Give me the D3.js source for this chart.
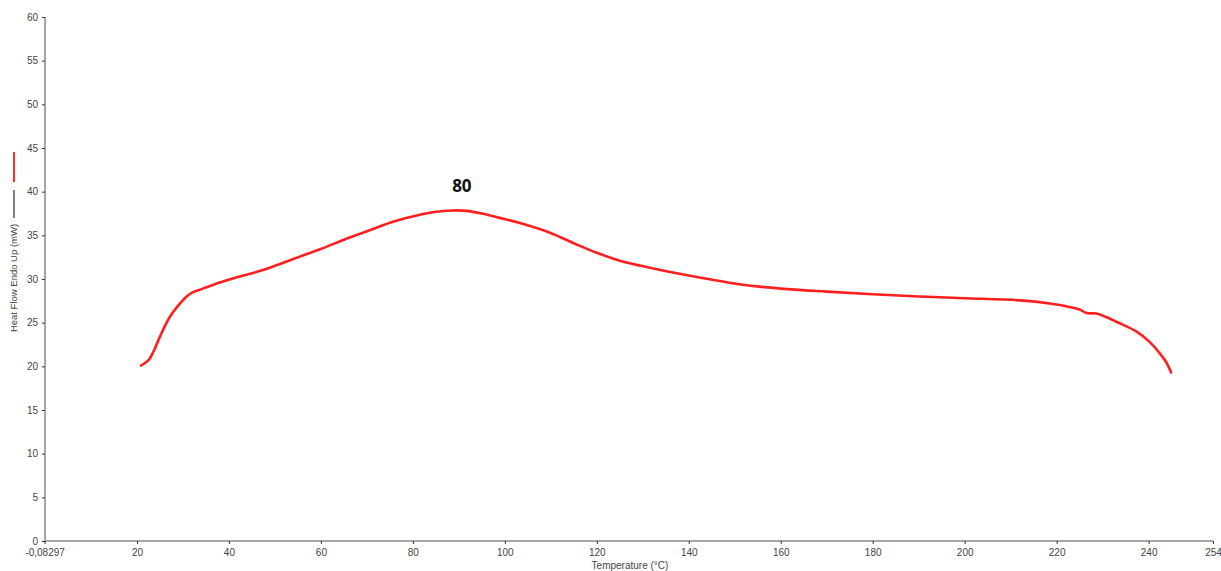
<!DOCTYPE html>
<html>
<head>
<meta charset="utf-8">
<script src="https://cdn.jsdelivr.net/npm/d3@7"></script>
<style>
  html, body { margin: 0; padding: 0; background: #fff; overflow: hidden; }
  svg { display: block; }
</style>
</head>
<body>
<svg id="chart" width="1221" height="571"></svg>
<script>
// Data
const temperature = [20.9, 21.5, 22.5, 23.6, 25.0, 27.2, 29.7, 30.8, 32.0, 33.5, 35.1, 38.0, 41.0, 44.6, 48.9, 54.0, 59.8, 65.0, 70.7, 76.0, 81.5, 85.0, 88.7, 91.7, 95.0, 98.9, 103.3, 109.8, 115.0, 120.0, 125.0, 131.5, 140.0, 151.0, 160.0, 170.0, 180.0, 190.0, 200.0, 212.0, 218.5, 222.8, 225.0, 226.5, 228.6, 230.5, 233.0, 237.3, 240.2, 242.4, 243.8, 244.9];
const heatFlow    = [20.1, 20.3, 20.7, 21.7, 23.4, 25.7, 27.4, 28.0, 28.45, 28.75, 29.05, 29.6, 30.1, 30.6, 31.3, 32.3, 33.4, 34.5, 35.6, 36.6, 37.35, 37.7, 37.85, 37.8, 37.5, 37.0, 36.4, 35.3, 34.1, 33.0, 32.1, 31.3, 30.4, 29.4, 28.9, 28.55, 28.25, 28.0, 27.8, 27.55, 27.2, 26.8, 26.5, 26.1, 26.05, 25.7, 25.1, 24.0, 22.8, 21.5, 20.5, 19.3];
const xTicks = [-0.08297, 20, 40, 60, 80, 100, 120, 140, 160, 180, 200, 220, 240, 254];
const xTickLabels = ["-0,08297", "20", "40", "60", "80", "100", "120", "140", "160", "180", "200", "220", "240", "254"];
const yTicks = [0, 5, 10, 15, 20, 25, 30, 35, 40, 45, 50, 55, 60];
const peakLabel = "80";
const peakAt = [90, 37.85];
const xTitle = "Temperature (°C)";
const yTitle = "Heat Flow Endo Up (mW)";

const svg = d3.select("#chart");
const x = d3.scaleLinear().domain([0, 254]).range([45, 1213]);
const y = d3.scaleLinear().domain([0, 60]).range([541, 17]);

const font = "Arial, 'Liberation Sans', sans-serif";

// X axis
const xAxis = d3.axisBottom(x).tickValues(xTicks)
  .tickFormat((d, i) => xTickLabels[i]).tickSize(3).tickPadding(5);
const gx = svg.append("g").attr("transform", "translate(0,541)").call(xAxis);
gx.select(".domain").attr("stroke", "#a6a6a6").attr("stroke-width", 2).attr("d", "M45,0H1213");
gx.selectAll(".tick line").attr("stroke", "#333").attr("stroke-width", 1);
gx.selectAll(".tick text").attr("fill", "#444").style("font-family", font).style("font-size", "10px");

// Y axis
const yAxis = d3.axisLeft(y).tickValues(yTicks).tickSize(3).tickPadding(4);
const gy = svg.append("g").attr("transform", "translate(45,0)").call(yAxis);
gy.select(".domain").attr("stroke", "#a6a6a6").attr("stroke-width", 2).attr("d", "M0,17V541");
gy.selectAll(".tick line").attr("stroke", "#333").attr("stroke-width", 1);
gy.selectAll(".tick text").attr("fill", "#444").style("font-family", font).style("font-size", "10px");

// Axis titles
svg.append("text").attr("x", 630).attr("y", 569).attr("text-anchor", "middle")
  .attr("fill", "#444").style("font-family", font).style("font-size", "10px").text(xTitle);
svg.append("text").attr("transform", "translate(17,278) rotate(-90)").attr("text-anchor", "middle")
  .attr("fill", "#444").style("font-family", font).style("font-size", "9.5px").text(yTitle);

// Legend marks
svg.append("line").attr("x1", 14).attr("x2", 14).attr("y1", 152).attr("y2", 182)
  .attr("stroke", "#ff2a2a").attr("stroke-width", 2);
svg.append("line").attr("x1", 14).attr("x2", 14).attr("y1", 190).attr("y2", 218)
  .attr("stroke", "#555").attr("stroke-width", 1.5);

// Curve
const pts = temperature.map((t, i) => [t, heatFlow[i]]);
const line = d3.line().x(d => x(d[0])).y(d => y(d[1])).curve(d3.curveCatmullRom.alpha(0.5));
svg.append("path").datum(pts).attr("d", line)
  .attr("fill", "none").attr("stroke", "#ff1f1f").attr("stroke-width", 2.6)
  .attr("stroke-linejoin", "round").attr("stroke-linecap", "round");

// Peak annotation
svg.append("text").attr("x", x(peakAt[0]) + 3).attr("y", y(peakAt[1]) - 18)
  .attr("text-anchor", "middle").attr("fill", "#111")
  .style("font-family", "'Open Sans', 'DejaVu Sans', sans-serif").style("font-weight", "bold").style("font-size", "17px")
  .text(peakLabel);
</script>
</body>
</html>
